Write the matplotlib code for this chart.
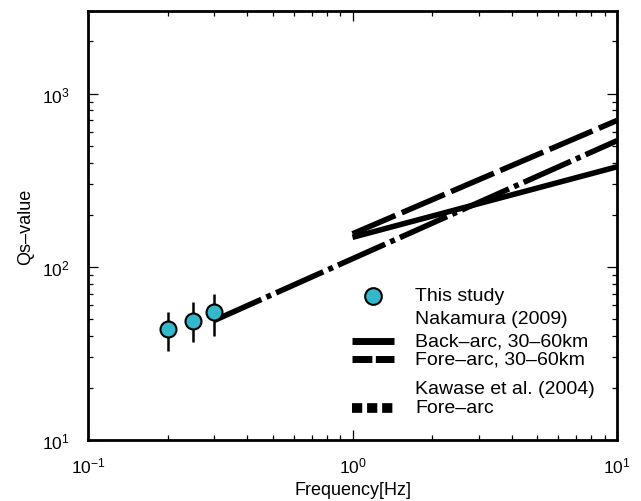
import matplotlib
matplotlib.use("Agg")
import matplotlib.pyplot as plt

plt.rcParams['font.family'] = ['Liberation Sans', 'DejaVu Sans']

# =========================
# DADOS
# =========================
freq = [0.2, 0.25, 0.3]
qs = [43.7, 48.6, 54.8]
qs_lo = [32.6, 36.8, 39.8]
qs_hi = [54.8, 62.5, 69.6]

# Nakamura (2009)
back_f = [1.0, 10.0]
back_q = [148, 378]
fore_f = [1.0, 10.0]
fore_q = [155, 700]

# Kawase et al. (2004)
kaw_f = [0.3, 10.0]
kaw_q = [49, 535]

legend_labels = ['This study', 'Nakamura (2009)', 'Back–arc, 30–60km',
                 'Fore–arc, 30–60km', 'Kawase et al. (2004)', 'Fore–arc']

# =========================
# FIGURA
# =========================
W, H = 641, 502
fig = plt.figure(figsize=(W / 100, H / 100), dpi=100)
ax = fig.add_axes([88 / W, 61 / H, 529 / W, 429 / H])
ax.set_xscale('log')
ax.set_yscale('log')
ax.set_xlim(0.1, 10)
ax.set_ylim(10, 3000)

ax.plot(back_f, back_q, color='black', lw=4, solid_capstyle='butt', zorder=3)
ax.plot(fore_f, fore_q, color='black', lw=4, dash_capstyle='butt',
        linestyle=(0, (8.4, 1.25)), zorder=3)
ax.plot(kaw_f, kaw_q, color='black', lw=4, dash_capstyle='butt',
        linestyle=(0, (9.3, 1.0, 0.9, 1.0)), zorder=3)

yerr = [[q - lo for q, lo in zip(qs, qs_lo)], [hi - q for q, hi in zip(qs, qs_hi)]]
ax.errorbar(freq, qs, yerr=yerr, fmt='none', ecolor='black', elinewidth=1.8,
            capsize=0, zorder=4)
ax.plot(freq, qs, 'o', ms=11.5, mfc='#33b8cc', mec='black', mew=1.5, zorder=5)

# eixos
for s in ax.spines.values():
    s.set_linewidth(2)
ax.tick_params(which='both', direction='in', top=True, right=True, width=0.9)
ax.tick_params(which='major', length=7, labelsize=12.5)
ax.tick_params(axis='y', which='major', pad=13)
ax.tick_params(axis='x', which='major', pad=11)
ax.tick_params(which='minor', length=3.5)
ax.set_xlabel('Frequency[Hz]', fontsize=13, labelpad=4)
ax.set_ylabel('Qs–value', fontsize=13, labelpad=6)

# =========================
# LEGENDA (manual)
# =========================
def pos(px, py):
    return (px - 88) / 529, (441 - py) / 429

tr = ax.transAxes
x0, _ = pos(352, 0)
x1, _ = pos(394, 0)
xt, _ = pos(415, 0)
ys = [297, 320, 342, 360, 390, 409]

xm, ym = pos(373, ys[0])
ax.plot([xm], [ym], 'o', ms=12, mfc='#33b8cc', mec='black', mew=1.5,
        transform=tr, clip_on=False)
ax.plot([x0, x1], [pos(0, ys[2])[1]] * 2, color='black', lw=5,
        solid_capstyle='butt', transform=tr)
ax.plot([x0, x1], [pos(0, ys[3])[1]] * 2, color='black', lw=5,
        linestyle=(0, (2.86, 0.5)), dash_capstyle='butt', transform=tr)
ax.plot([x0, x1], [pos(0, ys[5])[1]] * 2, color='black', lw=7,
        linestyle=(0, (1.05, 0.5)), dash_capstyle='butt', transform=tr)

for lab, py in zip(legend_labels, ys):
    ax.text(xt, pos(0, py)[1], lab, transform=tr, fontsize=14,
            ha='left', va='center')

fig.savefig('out.png', dpi=100)
